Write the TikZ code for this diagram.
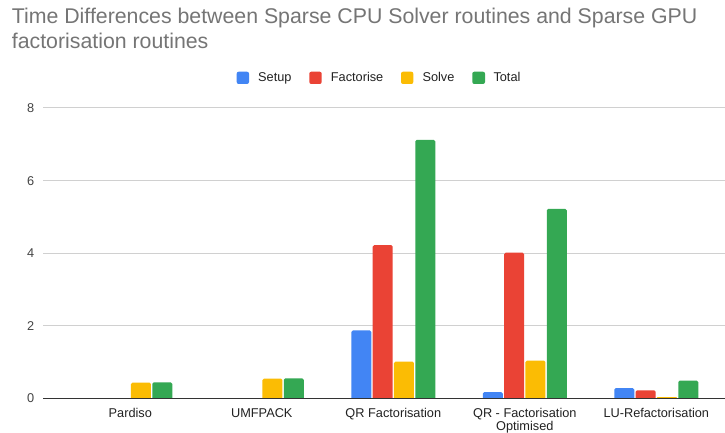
\documentclass[tikz,border=0pt]{standalone}
\usepackage{fontspec}
\setmainfont{Liberation Sans}
\definecolor{gblue}{HTML}{4285F4}
\definecolor{gred}{HTML}{EA4335}
\definecolor{gyellow}{HTML}{FBBC04}
\definecolor{ggreen}{HTML}{34A853}
\definecolor{titlegray}{HTML}{757575}
\definecolor{labelgray}{HTML}{222222}
\definecolor{ticklabel}{HTML}{444444}
\definecolor{gridgray}{HTML}{D0D0D0}
\definecolor{axisdark}{HTML}{333333}

% one bar: #1 group centre, #2 slot offset, #3 value, #4 colour
% (top corners rounded; the bottom is clipped square at the zero line)
\newcommand\chartbar[4]{%
  \pgfmathsetmacro\bx{#1+#2*21.3-10}%
  \pgfmathsetmacro\bh{#3*36.3}%
  \pgfmathsetmacro\bt{398.3-\bh}%
  \pgfmathsetmacro\br{min(1.5,\bh/2)}%
  \begin{scope}
    \clip ({\bx},{\bt}) rectangle ({\bx+20},398.3);
    \fill[#4, rounded corners=\br pt] ({\bx},{\bt}) rectangle ({\bx+20},403);
  \end{scope}
}

\begin{document}
\begin{tikzpicture}[x=1pt,y=-1pt,
  titletext/.style={inner sep=0pt, anchor=base west, text=titlegray,
    font=\fontsize{21.3}{25.7}\selectfont},
  legendtext/.style={inner sep=0pt, anchor=base west, text=labelgray,
    font=\fontsize{12.75}{15}\selectfont},
  legendkey/.style={rounded corners=2pt},
  cattext/.style={inner sep=0pt, anchor=base, text=labelgray,
    font=\fontsize{12.75}{15}\selectfont},
  ticktext/.style={inner sep=0pt, anchor=base east, text=ticklabel,
    font=\fontsize{12.75}{15}\selectfont},
  gridline/.style={draw=gridgray, line width=1pt},
  baseline/.style={draw=axisdark, line width=1pt}]
\useasboundingbox (0,0) rectangle (725,433);
\fill[white] (0,0) rectangle (725,433);

% title
\node[titletext] (title1) at (11.7,23.3) {Time Differences between Sparse CPU Solver routines and Sparse GPU};
\node[titletext] (title2) at (11.7,49.0) {factorisation routines};

% legend
\fill[gblue, legendkey] (236.7,71.7) rectangle (249,84);
\node[legendtext] (legsetup) at (258,81.3) {Setup};
\fill[gred, legendkey] (309.3,71.7) rectangle (321.7,84);
\node[legendtext] (legfact) at (330.7,81.3) {Factorise};
\fill[gyellow, legendkey] (401,71.7) rectangle (413.3,84);
\node[legendtext] (legsolve) at (422.3,81.3) {Solve};
\fill[ggreen, legendkey] (472.3,71.7) rectangle (485,84);
\node[legendtext] (legtotal) at (493.3,81.3) {Total};

% gridlines and tick labels
\foreach \v in {2,4,6,8} {
  \draw[gridline] (43,{398.3-\v*36.3}) -- (725,{398.3-\v*36.3});
}
\foreach \v in {0,2,4,6,8} {
  \node[ticktext] (tick\v) at (34.5,{398.3-\v*36.3+4.5}) {\v};
}

% bars: setup, factorise, solve, total
\chartbar{130.3}{0.5}{0.43}{gyellow}
\chartbar{130.3}{1.5}{0.44}{ggreen}

\chartbar{261.8}{0.5}{0.54}{gyellow}
\chartbar{261.8}{1.5}{0.55}{ggreen}

\chartbar{393.3}{-1.5}{1.87}{gblue}
\chartbar{393.3}{-0.5}{4.22}{gred}
\chartbar{393.3}{0.5}{1.01}{gyellow}
\chartbar{393.3}{1.5}{7.12}{ggreen}

\chartbar{524.8}{-1.5}{0.17}{gblue}
\chartbar{524.8}{-0.5}{4.01}{gred}
\chartbar{524.8}{0.5}{1.04}{gyellow}
\chartbar{524.8}{1.5}{5.22}{ggreen}

\chartbar{656.3}{-1.5}{0.28}{gblue}
\chartbar{656.3}{-0.5}{0.22}{gred}
\chartbar{656.3}{0.5}{0.03}{gyellow}
\chartbar{656.3}{1.5}{0.485}{ggreen}

% zero line
\draw[baseline] (43,398.3) -- (725,398.3);

% category labels
\node[cattext] (catpardiso) at (130.3,417.3) {Pardiso};
\node[cattext] (catumf) at (261.8,417.3) {UMFPACK};
\node[cattext] (catqr) at (393.3,417.3) {QR Factorisation};
\node[cattext] (catqropt) at (524.8,417.3) {QR - Factorisation};
\node[cattext] (catqroptb) at (524.8,430.3) {Optimised};
\node[cattext] (catlu) at (656.3,417.3) {LU-Refactorisation};
\end{tikzpicture}
\end{document}
